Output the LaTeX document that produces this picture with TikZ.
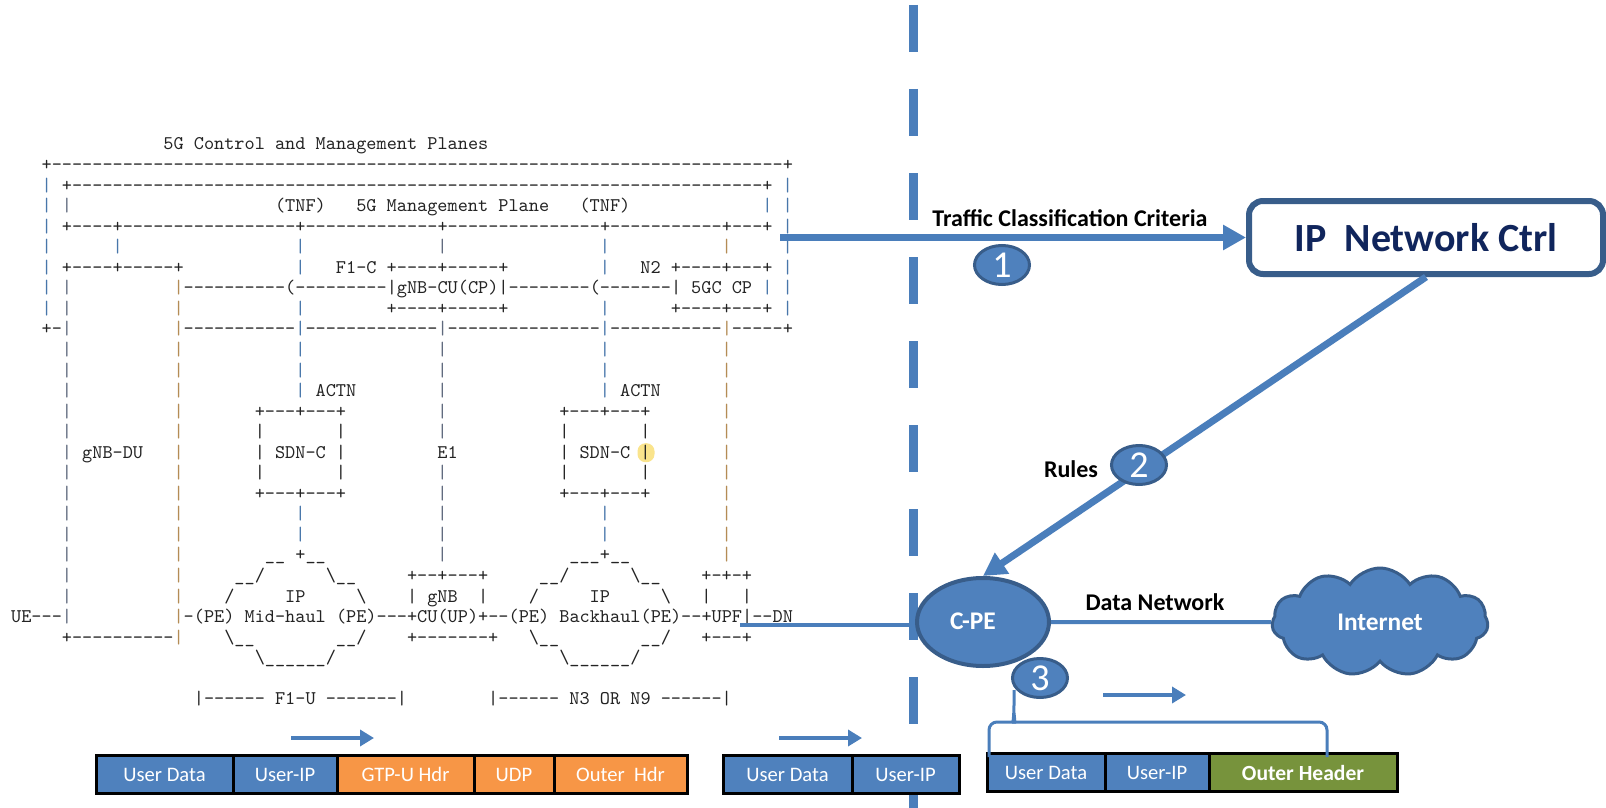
\documentclass[tikz,border=0pt]{standalone}
\usepackage{fontspec}
\newfontfamily\calib{Carlito}
\usetikzlibrary{arrows.meta,shapes.geometric,shapes.symbols}

\definecolor{asciitext}{RGB}{35,35,35}
\definecolor{vb}{RGB}{72,118,170}
\definecolor{vo}{RGB}{180,140,85}
\definecolor{vg}{RGB}{95,105,125}
\definecolor{bfill}{RGB}{79,129,189}
\definecolor{bdark}{RGB}{56,93,138}
\definecolor{bline}{RGB}{74,126,187}
\definecolor{ofill}{RGB}{247,150,70}
\definecolor{gfill}{RGB}{119,147,60}
\definecolor{navy}{RGB}{16,37,92}
\definecolor{hly}{RGB}{250,228,140}

\newcommand\D[1]{\ifnum#1>0 -\kern0pt\relax\expandafter\D\expandafter{\the\numexpr#1-1\relax}\fi}
\newcommand\A[3]{\node[asc] (a#1r#2) at ({41.6+10.15*(#1)},{149.95+20.55*(#2)}) {#3};}
\newcommand\VB[3]{\node[asc,text=#3] (b#1r#2) at ({41.6+10.15*(#1)},{149.95+20.55*(#2)}) {|};}

\tikzset{
  asc/.style={anchor=base west, inner sep=0pt, outer sep=0pt, text=asciitext,
    font=\ttfamily\fontsize{9.67pt}{10pt}\selectfont},
  hl/.style={fill=hly, rounded corners=4pt, minimum width=8.5pt, minimum height=9.5pt, inner sep=0pt},
  dashl/.style={draw=bline, line width=4.5pt, dash pattern=on 23.5pt off 18.5pt},
  big/.style={draw=bline, line width=3.5pt, -{Triangle[length=11.5pt,width=12pt]}},
  thinl/.style={draw=bline, line width=2pt},
  small/.style={draw=bline, line width=2.2pt, -{Triangle[length=7pt,width=8pt]}},
  brace/.style={draw=bline, line width=1.5pt},
  ipbox/.style={rectangle, rounded corners=7pt, draw=bdark, line width=3pt, fill=white,
    minimum width=177pt, minimum height=36.5pt, inner sep=0pt, text=navy,
    font=\calib\bfseries\fontsize{20pt}{22pt}\selectfont},
  lbl/.style={inner sep=0pt, text=black, font=\calib\bfseries\fontsize{12pt}{14pt}\selectfont},
  wlbl/.style={inner sep=0pt, text=white, font=\calib\bfseries\fontsize{12.7pt}{14pt}\selectfont},
  num/.style={ellipse, draw=bdark, line width=1.5pt, fill=bfill, minimum width=27.5pt,
    minimum height=19.5pt, inner sep=0pt, text=white, font=\calib\fontsize{19pt}{19pt}\selectfont},
  cpest/.style={ellipse, draw=bdark, line width=2pt, fill=bfill, minimum width=66pt,
    minimum height=44pt, inner sep=0pt},
  cloudst/.style={cloud, cloud puffs=11, cloud puff arc=115, aspect=2, draw=bdark,
    line width=1.5pt, fill=bfill, minimum width=108pt, minimum height=54pt, inner sep=0pt,
    text=white, font=\calib\bfseries\fontsize{12.7pt}{14pt}\selectfont},
  pk/.style={rectangle, draw=black, line width=1.5pt, minimum height=19pt, inner sep=0pt,
    text=white, font=\calib\fontsize{10.3pt}{12pt}\selectfont},
}

\begin{document}
\begin{tikzpicture}[x=0.5pt,y=-0.5pt]
\fill[white] (0,0) rectangle (1606,808);
\useasboundingbox (0,0) rectangle (1606,808);

% dashed separator
\coordinate (dtop) at (913,5);
\coordinate (dbot) at (913,812);
\draw[dashl] (dtop) -- (dbot);

% highlight
\node[hl] (hlt) at (646,452.7) {};

% ---- ASCII art: coloured long verticals
\foreach \r in {2,...,8} {\VB{0}{\r}{vb}\VB{73}{\r}{vb}}
\VB{2}{3}{vg}
\foreach \r in {7,...,23} {\VB{2}{\r}{vg}}
\VB{7}{5}{vb}
\foreach \r in {7,8,10,11,12,13,14,15,16,17,18,19,20,21,22,23,24} {\VB{13}{\r}{vo}}
\foreach \r in {5,6,8,10,11,12,18,19} {\VB{25}{\r}{vb}\VB{55}{\r}{vb}}
\foreach \r in {5,10,11,12,13,14,16,17,18,19,20} {\VB{39}{\r}{vg}}
\foreach \r in {5,10,11,12,13,14,15,16,17,18,19,20} {\VB{67}{\r}{vo}}
\VB{71}{3}{vb}
\VB{71}{7}{vb}

% ---- ASCII art: text
\A{12}{0}{5G Control and Management Planes}
\A{0}{1}{+\D{72}+}
\A{2}{2}{+\D{68}+}
\A{23}{3}{(TNF)}
\A{31}{3}{5G Management Plane}
\A{53}{3}{(TNF)}
\A{2}{4}{+\D{4}+\D{17}+\D{13}+\D{15}+\D{11}+\D{3}+}
\A{2}{6}{+\D{4}+\D{5}+}
\A{29}{6}{F1-C +\D{4}+\D{5}+}
\A{59}{6}{N2 +\D{4}+\D{3}+}
\A{14}{7}{\D{10}(\D{9}|gNB-CU(CP)|\D{8}(\D{7}|}
\A{64}{7}{5GC CP}
\A{34}{8}{+\D{4}+\D{5}+}
\A{62}{8}{+\D{4}+\D{3}+}
\A{0}{9}{+-}
\A{13}{9}{\textcolor{vo}{|}\D{11}\textcolor{vb}{|}\D{13}\textcolor{vg}{|}\D{15}\textcolor{vb}{|}\D{11}\textcolor{vo}{|}\D{5}+}
\A{27}{12}{ACTN}
\A{57}{12}{ACTN}
\A{21}{13}{+\D{3}+\D{3}+}
\A{51}{13}{+\D{3}+\D{3}+}
\A{21}{14}{|}
\A{29}{14}{|}
\A{51}{14}{|}
\A{59}{14}{|}
\A{4}{15}{gNB-DU}
\A{21}{15}{|}
\A{23}{15}{SDN-C}
\A{29}{15}{|}
\A{39}{15}{E1}
\A{51}{15}{|}
\A{53}{15}{SDN-C}
\A{59}{15}{|}
\A{21}{16}{|}
\A{29}{16}{|}
\A{51}{16}{|}
\A{59}{16}{|}
\A{21}{17}{+\D{3}+\D{3}+}
\A{51}{17}{+\D{3}+\D{3}+}
\A{22}{20}{\_\_ +\_\_}
\A{52}{20}{\_\_\_+\_\_}
\A{19}{21}{\_\_/}
\A{28}{21}{\textbackslash\_\_}
\A{36}{21}{+\D{2}+\D{3}+}
\A{49}{21}{\_\_/}
\A{58}{21}{\textbackslash\_\_}
\A{65}{21}{+-+-+}
\A{18}{22}{/}
\A{24}{22}{IP}
\A{31}{22}{\textbackslash}
\A{36}{22}{|}
\A{38}{22}{gNB}
\A{43}{22}{|}
\A{48}{22}{/}
\A{54}{22}{IP}
\A{61}{22}{\textbackslash}
\A{65}{22}{|}
\A{69}{22}{|}
\A{-3}{23}{UE\D{3}}
\A{14}{23}{-(PE) Mid-haul (PE)\D{3}+CU(UP)+\D{2}(PE) Backhaul(PE)\D{2}+UPF|\D{2}DN}
\A{2}{24}{+\D{10}}
\A{18}{24}{\textbackslash\_\_}
\A{29}{24}{\_\_/}
\A{36}{24}{+\D{7}+}
\A{48}{24}{\textbackslash\_\_}
\A{59}{24}{\_\_/}
\A{65}{24}{+\D{3}+}
\A{21}{25}{\textbackslash\_\_\_\_\_\_/}
\A{51}{25}{\textbackslash\_\_\_\_\_\_/}
\A{15}{27}{|\D{6} F1-U \D{7}|}
\A{44}{27}{|\D{6} N3 OR N9 \D{6}|}

% ---- right side
\node[ipbox] (ipc) at (1426,237.5) {IP\ \ Network Ctrl};
\coordinate (tcs) at (780,237.5);
\draw[big] (tcs) -- (ipc.west);
\node[lbl] (tcc) at (1070,218) {Traffic Classification Criteria};
\node[num] (n1) at (1002,265) {1};

\node[cpest] (cpe) at (983,622) {};
\node[wlbl] (cpet) at (973,621) {C-PE};
\coordinate (dn) at (740,624.5);
\draw[thinl] (dn) -- (dn -| cpe.west);
\draw[big] (ipc.south) -- (cpe.north);
\node[num] (n2) at (1139,465) {2};
\node[lbl] (rules) at (1071,469) {Rules};

\node[cloudst] (inet) at (1380,622) {Internet};
\draw[thinl] (cpe.east) -- (inet.west);
\node[lbl] (dnet) at (1155,602) {Data Network};

\node[num] (n3) at (1040,678) {3};
\coordinate (a3s) at (1103,695);
\coordinate (a3e) at (1186,695);
\draw[small] (a3s) -- (a3e);

% packets
\node[pk,fill=bfill,minimum width=68.5pt] (p1) at (164.5,774.5) {User Data};
\node[pk,fill=bfill,minimum width=52pt] (p2) at (285,774.5) {User-IP};
\node[pk,fill=ofill,minimum width=68.5pt] (p3) at (405.5,774.5) {GTP-U Hdr};
\node[pk,fill=ofill,minimum width=40pt] (p4) at (514,774.5) {UDP};
\node[pk,fill=ofill,minimum width=66.5pt] (p5) at (620.5,774.5) {Outer\ \ Hdr};
\node[pk,fill=bfill,minimum width=64.5pt] (q1) at (787.5,774.5) {User Data};
\node[pk,fill=bfill,minimum width=53.5pt] (q2) at (905.5,774.5) {User-IP};
\node[pk,fill=bfill,minimum width=59pt] (s1) at (1046,772.5) {User Data};
\node[pk,fill=bfill,minimum width=52pt] (s2) at (1157,772.5) {User-IP};
\node[pk,fill=gfill,minimum width=94pt,font=\calib\bfseries\fontsize{10.8pt}{12pt}\selectfont] (s3) at (1303,772.5) {Outer Header};

\coordinate (a1s) at (291,738);
\coordinate (a1e) at (374,738);
\draw[small] (a1s) -- (a1e);
\coordinate (a2s) at (779,738);
\coordinate (a2e) at (862,738);
\draw[small] (a2s) -- (a2e);

% brace
\coordinate (bl) at (989,757);
\coordinate (br) at (1327,757);
\coordinate (bt) at (1014,690);
\draw[brace,rounded corners=4pt] (bl) -- (989,722) -- (1008,722) .. controls (1013,722) .. (1014,713) -- (bt);
\draw[brace,rounded corners=4pt] (br) -- (1327,722) -- (1020,722) .. controls (1015,722) .. (1014,713);
\end{tikzpicture}
\end{document}
